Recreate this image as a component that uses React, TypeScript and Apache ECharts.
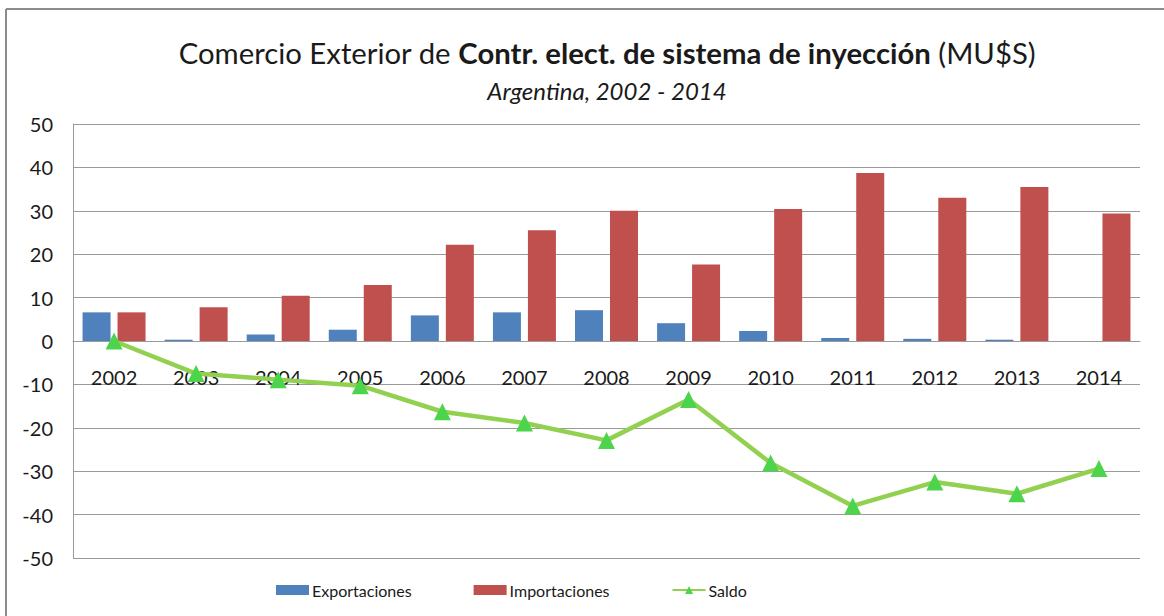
import React, { useEffect, useRef } from "react";
import * as echarts from "echarts";

const years = ["2002", "2003", "2004", "2005", "2006", "2007", "2008", "2009", "2010", "2011", "2012", "2013", "2014"];
const exportaciones = [6.6, 0.3, 1.5, 2.6, 5.9, 6.6, 7.1, 4.1, 2.3, 0.7, 0.5, 0.3, 0];
const importaciones = [6.6, 7.8, 10.4, 12.9, 22.2, 25.5, 30.0, 17.6, 30.4, 38.7, 33.0, 35.5, 29.4];
const saldo = [0, -7.5, -8.9, -10.3, -16.3, -18.9, -22.9, -13.5, -28.1, -38.0, -32.5, -35.2, -29.4];

const FONT = "Lato, 'Open Sans', sans-serif";

export default function App() {
  const ref = useRef<HTMLDivElement>(null);
  useEffect(() => {
    if (!ref.current) return;
    const chart = echarts.init(ref.current, undefined, { renderer: "svg" });
    chart.setOption({
      animation: false,
      backgroundColor: "#ffffff",
      textStyle: { fontFamily: FONT },
      title: [
        {
          text: "{n|Comercio Exterior de }{b|Contr. elect. de sistema de inyección}{n| (MU$S)}",
          left: 602,
          top: 33,
          textAlign: "center",
          textStyle: {
            rich: {
              n: { fontSize: 29.3, fontFamily: FONT, color: "#1a1a1a", fontWeight: "normal" },
              b: { fontSize: 29.3, fontFamily: FONT, color: "#1a1a1a", fontWeight: "bold" },
            },
          },
        },
        {
          text: "Argentina, 2002 - 2014",
          left: 602,
          top: 73,
          textAlign: "center",
          textStyle: { fontSize: 24, fontStyle: "italic", fontWeight: "normal", color: "#1a1a1a", fontFamily: FONT },
        },
      ],
      graphic: [
        { type: "line", shape: { x1: 6, y1: 9, x2: 1164, y2: 9 }, style: { stroke: "#8c8c8c", lineWidth: 2 } },
        { type: "line", shape: { x1: 6, y1: 9, x2: 6, y2: 616 }, style: { stroke: "#8c8c8c", lineWidth: 2 } },
      ],
      legend: {
        left: 271,
        top: 577,
        itemWidth: 33,
        itemHeight: 10,
        itemGap: 62,
        textStyle: { fontSize: 16, color: "#1a1a1a", fontFamily: FONT, padding: [0, 0, 0, -2] },
        data: [
          { name: "Exportaciones", icon: "rect" },
          { name: "Importaciones", icon: "rect" },
          { name: "Saldo" },
        ],
      },
      grid: { left: 73, right: 24, top: 124, bottom: 58, containLabel: false },
      xAxis: {
        type: "category",
        data: years,
        axisLine: { onZero: true, lineStyle: { color: "#9a9a9a", width: 1 } },
        axisTick: { show: false },
        axisLabel: { fontSize: 20, color: "#1a1a1a", margin: -191, fontFamily: FONT },
      },
      yAxis: {
        type: "value",
        min: -50,
        max: 50,
        interval: 10,
        axisLine: { show: true, lineStyle: { color: "#9a9a9a", width: 1 } },
        axisTick: { show: false },
        splitLine: { lineStyle: { color: "#9a9a9a", width: 1 } },
        axisLabel: { fontSize: 20, color: "#1a1a1a", margin: 20, fontFamily: FONT },
      },
      series: [
        {
          name: "Exportaciones",
          type: "bar",
          data: exportaciones,
          barWidth: 28,
          barGap: "25%",
          itemStyle: { color: "#4F81BD" },
        },
        {
          name: "Importaciones",
          type: "bar",
          data: importaciones,
          barWidth: 28,
          barGap: "25%",
          itemStyle: { color: "#C0504D" },
        },
        {
          name: "Saldo",
          type: "line",
          data: saldo,
          symbol: "triangle",
          symbolSize: 17,
          lineStyle: { color: "#92D050", width: 4.5 },
          itemStyle: { color: "#4CD44C" },
          z: 5,
        },
      ],
    });
    return () => chart.dispose();
  }, []);
  return <div ref={ref} style={{ position: "fixed", left: 0, top: 0, width: 1164, height: 616 }} />;
}
